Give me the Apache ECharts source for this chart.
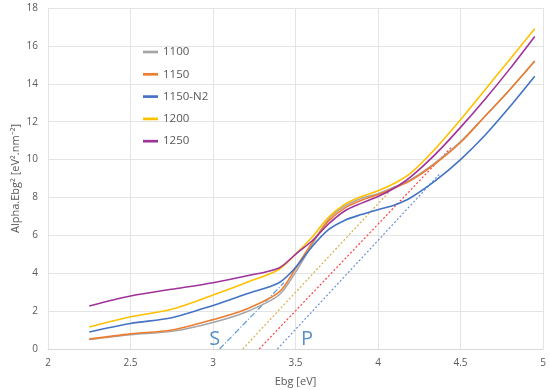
<!DOCTYPE html>
<html><head><meta charset="utf-8">
<script src="https://cdn.jsdelivr.net/npm/echarts@6/dist/echarts.min.js"></script>
<style>html,body{margin:0;padding:0;background:#fff}#c{width:550px;height:390px}</style>
</head><body><div id="c"></div>
<script>
const xs = [2.25, 2.5, 2.75, 3.0, 3.2, 3.4, 3.5, 3.6, 3.7, 3.8, 3.9, 4.0, 4.1, 4.2, 4.35, 4.5, 4.65, 4.8, 4.95];
const y1100   = [0.5, 0.75, 0.93, 1.4, 1.95, 2.85, 4.05, 5.5, 6.85, 7.55, 7.95, 8.2, 8.55, 8.95, 9.85, 10.95, 12.3, 13.7, 15.2];
const y1150   = [0.52, 0.8, 1.0, 1.55, 2.1, 3.0, 4.25, 5.6, 6.75, 7.45, 7.85, 8.15, 8.5, 8.9, 9.8, 10.9, 12.3, 13.7, 15.2];
const y1150N2 = [0.9, 1.35, 1.65, 2.3, 2.9, 3.5, 4.3, 5.4, 6.3, 6.8, 7.1, 7.35, 7.6, 8.0, 8.9, 10.0, 11.3, 12.8, 14.4];
const y1200   = [1.16, 1.7, 2.1, 2.85, 3.5, 4.2, 5.0, 5.9, 6.95, 7.65, 8.05, 8.35, 8.75, 9.3, 10.6, 12.1, 13.7, 15.3, 16.9];
const y1250   = [2.27, 2.8, 3.15, 3.5, 3.85, 4.28, 5.0, 5.7, 6.6, 7.3, 7.7, 8.05, 8.5, 9.1, 10.3, 11.7, 13.2, 14.8, 16.5];
const names = ['1100', '1150', '1150-N2', '1200', '1250'];
const colors = ['#a5a5a5', '#ed7d31', '#4472c4', '#ffc000', '#a0329b'];
// tangent lines [x0,y0,x1,y1]
const tanS   = [[3.04, 0], [3.43, 3.5]];
const tanY   = [[3.18, 0], [4.1, 8.6]];
const tanR   = [[3.28, 0], [4.45, 10.7]];
const tanB   = [[3.39, 0], [4.38, 9.3]];
const annot = [{t: 'S', x: 3.01, y: 0.5}, {t: 'P', x: 3.57, y: 0.5}];

const ys = [y1100, y1150, y1150N2, y1200, y1250];
const series = [];
function dash(pts, color, type){
  series.push({type:'line', data: pts, symbol:'none', silent:true, z:1,
    lineStyle:{color: color, width:1.2, type: type}});
}
dash(tanS, '#5b9bd5', [6,2,1,2]);
dash(tanY, '#d4b04a', [2,2]);
dash(tanR, '#ff4040', [2,2]);
dash(tanB, '#6f8fd8', [2,2]);
ys.forEach((arr, i) => {
  series.push({name: names[i], type:'line', smooth:0.3, symbol:'none', z:3,
    data: xs.map((x, j) => [x, arr[j]]),
    lineStyle:{color: colors[i], width: i===0?1.5:1.6}, itemStyle:{color: colors[i]}});
});
series.push({type:'scatter', symbolSize:0, silent:true,
  data: annot.map(a => ({value:[a.x, a.y], name:a.t})),
  label:{show:true, position:'inside', formatter: p => p.name, color:'#2e75b6', fontSize:20, fontFamily:'Open Sans'}});

const chart = echarts.init(document.getElementById('c'));
chart.setOption({
  animation:false,
  textStyle:{fontFamily:'Open Sans'},
  grid:{left:48, right:7, top:8, bottom:41, containLabel:false, outerBoundsMode:'none'},
  legend:{data:names, orient:'vertical', left:138, top:40, itemWidth:15, itemHeight:14,
    icon:'path://M0,6 L14,6 L14,8.5 L0,8.5 Z',
    textStyle:{color:'#595959', fontSize:11.5, lineHeight:14, padding:[0,0,0,0]},
    itemGap:8.3},
  xAxis:{type:'value', min:2, max:5, interval:0.5, name:'Ebg [eV]', nameLocation:'middle', nameGap:27,
    nameMoveOverlap:false,
    nameTextStyle:{color:'#595959', fontSize:11},
    axisLine:{lineStyle:{color:'#d9d9d9'}}, axisTick:{show:false},
    axisLabel:{color:'#595959', fontSize:10, margin:9, formatter: v => String(v)},
    splitLine:{show:true, lineStyle:{color:'#e4e4e4'}}},
  yAxis:{type:'value', min:0, max:18, interval:2, name:'Alpha.Ebg² [eV².nm⁻²]', nameLocation:'middle', nameGap:27,
    nameMoveOverlap:false,
    nameTextStyle:{color:'#595959', fontSize:11},
    axisLine:{show:false}, axisTick:{show:false},
    axisLabel:{color:'#595959', fontSize:10, margin:10},
    splitLine:{lineStyle:{color:'#e4e4e4'}}},
  series: series
});
</script></body></html>
